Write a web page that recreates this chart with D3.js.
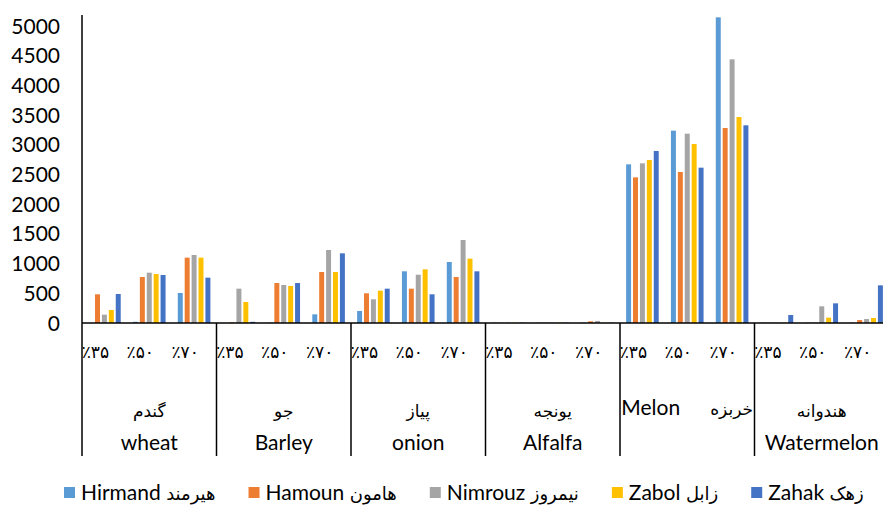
<!DOCTYPE html>
<html>
<head>
<meta charset="utf-8">
<script src="https://cdn.jsdelivr.net/npm/d3@7"></script>
<style>
  body { margin: 0; background: #fff; }
  svg { display: block; font-family: Lato, 'DejaVu Sans', sans-serif; }
</style>
</head>
<body>
<svg id="chart" width="883" height="506"></svg>
<script>
const crops = ['wheat', 'Barley', 'onion', 'Alfalfa', 'Melon', 'Watermelon'];
const cropsFa = ['گندم', 'جو', 'پیاز', 'یونجه', 'خربزه', 'هندوانه'];
const levels = ['٪۳۵', '٪۵۰', '٪۷۰'];
const series = ['Hirmand', 'Hamoun', 'Nimrouz', 'Zabol', 'Zahak'];
const seriesFa = ['هیرمند', 'هامون', 'نیمروز', 'زابل', 'زهک'];
const colors = ['#5B9BD5', '#ED7D31', '#A5A5A5', '#FFC000', '#4472C4'];
const yTicks = d3.range(0, 5001, 500);

// 18 values per series: crop x level (35, 50, 70)
const hirmand = [0, 20, 505, 0, 5, 146, 202, 870, 1027, 5, 5, 5, 2671, 3238, 5146, 5, 5, 5];
const hamoun = [483, 774, 1100, 10, 673, 859, 500, 578, 774, 5, 5, 28, 2452, 2542, 3283, 5, 5, 50];
const nimrouz = [140, 847, 1145, 578, 640, 1229, 399, 813, 1397, 5, 5, 35, 2688, 3187, 4439, 5, 281, 67];
const zabol = [219, 825, 1100, 354, 623, 859, 544, 904, 1083, 5, 5, 5, 2744, 3013, 3468, 5, 90, 84];
const zahak = [488, 808, 763, 20, 673, 1173, 578, 483, 870, 5, 5, 5, 2896, 2615, 3328, 135, 331, 634];
const values = [hirmand, hamoun, nimrouz, zabol, zahak];

const svg = d3.select('#chart');
const left = 82, top0 = 26, base = 323, groupW = 134.5;

const x0 = d3.scaleBand().domain(crops).range([left, left + groupW * crops.length]);
const xSub = d3.scaleBand().domain(levels).range([0, x0.bandwidth()]);
const x1 = d3.scaleBand().domain(series).range([0, xSub.bandwidth()]).paddingInner(0.28).paddingOuter(0.885);
const y = d3.scaleLinear().domain([0, 5000]).range([base, top0]);

// y labels
svg.append('g').selectAll('text').data(yTicks).enter().append('text')
  .attr('x', 60).attr('y', (d) => y(d)).attr('dy', '0.36em')
  .attr('text-anchor', 'end').attr('font-size', 21).attr('fill', '#000')
  .text((d) => d);

// bars
const rows = [];
crops.forEach((c, ci) => levels.forEach((l, li) => series.forEach((s, si) => {
  rows.push({ crop: c, level: l, s, si, v: values[si][ci * 3 + li] });
})));
svg.append('g').selectAll('rect').data(rows).enter().append('rect')
  .attr('x', (d) => x0(d.crop) + xSub(d.level) + x1(d.s))
  .attr('y', (d) => y(d.v))
  .attr('width', x1.bandwidth())
  .attr('height', (d) => base - y(d.v))
  .attr('fill', (d) => colors[d.si]);

// axes lines
svg.append('line').attr('x1', left).attr('x2', left).attr('y1', 15).attr('y2', 456)
  .attr('stroke', '#000').attr('stroke-width', 1.5);
svg.append('line').attr('x1', left).attr('x2', 883).attr('y1', base).attr('y2', base)
  .attr('stroke', '#000').attr('stroke-width', 1.5);
svg.append('g').selectAll('line').data(crops.slice(1)).enter().append('line')
  .attr('x1', (d) => x0(d)).attr('x2', (d) => x0(d)).attr('y1', base).attr('y2', 456)
  .attr('stroke', '#000').attr('stroke-width', 1.5);

// level labels
const lv = svg.append('g');
crops.forEach((c) => levels.forEach((l) => {
  lv.append('text').attr('x', x0(c) + xSub(l) + xSub.bandwidth() / 2 - 9).attr('y', 358)
    .attr('text-anchor', 'middle').attr('font-size', 17).text(l);
}));

// crop labels
const cl = svg.append('g');
crops.forEach((c, i) => {
  const cx = x0(c) + x0.bandwidth() / 2;
  if (c === 'Melon') {
    const t = cl.append('text').attr('x', cx).attr('y', 415).attr('text-anchor', 'middle');
    t.append('tspan').attr('font-size', 21).text('Melon');
    t.append('tspan').attr('dx', 30).attr('font-size', 17).text(cropsFa[i]);
  } else {
    cl.append('text').attr('x', cx).attr('y', 417).attr('text-anchor', 'middle')
      .attr('font-size', 17).text(cropsFa[i]);
    cl.append('text').attr('x', cx).attr('y', 450).attr('text-anchor', 'middle')
      .attr('font-size', 21).text(c);
  }
});

// legend
const lg = svg.append('g');
let lx = 64;
series.forEach((s, i) => {
  lg.append('rect').attr('x', lx).attr('y', 487).attr('width', 11).attr('height', 11).attr('fill', colors[i]);
  const t = lg.append('text').attr('x', lx + 17).attr('y', 500);
  t.append('tspan').attr('font-size', 21).text(s + ' ');
  t.append('tspan').attr('font-size', 18).text(seriesFa[i]);
  lx += 17 + t.node().getComputedTextLength() + 33;
});
</script>
</body>
</html>
